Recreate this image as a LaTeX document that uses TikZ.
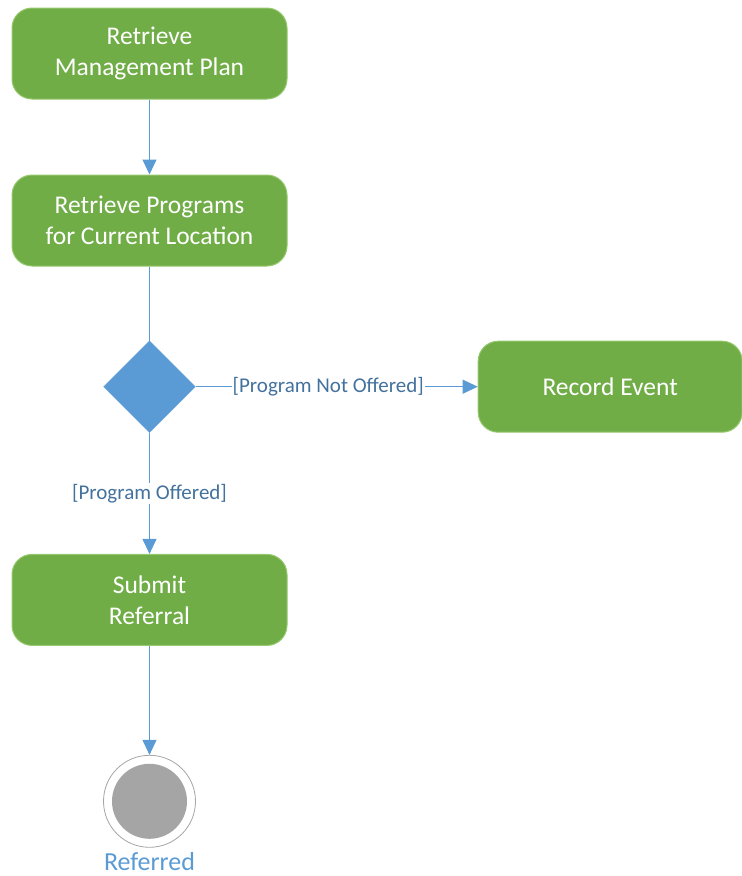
\documentclass[tikz,border=0pt]{standalone}
\usepackage{fontspec}
\setmainfont{Carlito}
\usepackage{tikz}
\usetikzlibrary{arrows.meta,positioning,shapes.geometric}
\definecolor{actgreen}{RGB}{112,173,71}
\definecolor{actedge}{RGB}{150,200,110}
\definecolor{flowblue}{RGB}{91,155,213}
\definecolor{guardblue}{RGB}{68,114,158}
\definecolor{endgray}{RGB}{165,165,165}

\begin{document}
\begin{tikzpicture}[
    x=1pt,y=-1pt,
    activity/.style={draw=actedge,rounded corners=20pt,align=center,minimum width=275pt,
                minimum height=91pt,fill=actgreen,text=white,line width=1pt,
                font=\fontsize{25.5}{31}\selectfont},
    decision/.style={diamond,draw=flowblue!85!white,fill=flowblue,minimum width=92pt,
                minimum height=92pt,inner sep=0pt},
    flow/.style={-{Triangle[length=15pt,width=14pt]},line width=1pt,draw=flowblue},
    guard/.style={fill=white,text=guardblue,inner sep=1pt,font=\fontsize{21}{24}\selectfont}
  ]
    \useasboundingbox (0,0) rectangle (742,876);
    \node[activity] (plan) at (149.5,53.5) {Retrieve\\Management Plan};
    \node[activity,below=75pt of plan] (programs) {Retrieve Programs\\for Current Location};
    \node[decision,below=74pt of programs] (offered) {};
    \node[activity,minimum width=264pt,right=282pt of offered] (record) {Record Event};
    \node[activity,below=121pt of offered] (referral) {Submit\\Referral};
    \node[circle,draw=endgray,fill=white,minimum size=92pt,line width=0.8pt,
          below=109pt of referral] (final) {};
    \node[circle,fill=endgray,minimum size=75pt] at (final) {};
    \node[text=flowblue,font=\fontsize{26}{28}\selectfont,below=1pt of final] (referred) {Referred};
    \draw[flow] (plan)--(programs);
    \draw[line width=1pt,draw=flowblue] (programs)--(offered);
    \draw[flow] (offered)--node[guard,pos=0.47]{[Program Not Offered]}(record);
    \draw[flow] (offered)--node[guard]{[Program Offered]}(referral);
    \draw[flow] (referral)--(final);
  \end{tikzpicture}
\end{document}
